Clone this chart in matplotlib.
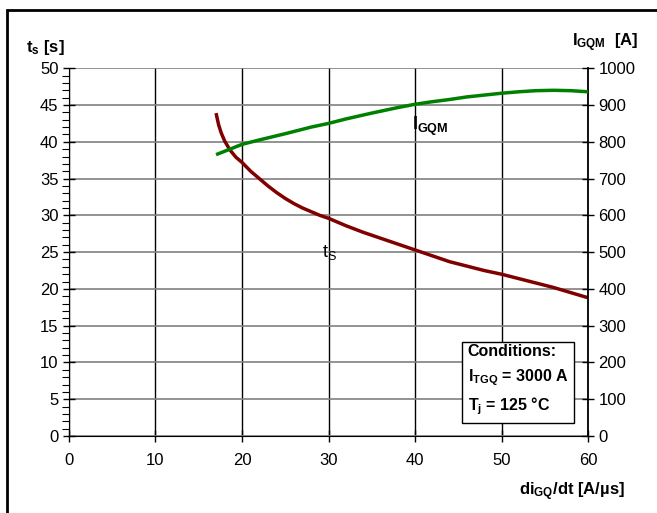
import numpy as np
import matplotlib.pyplot as plt
from matplotlib.patches import Rectangle
from matplotlib.ticker import MultipleLocator

plt.rcParams['font.family'] = ['Liberation Sans', 'DejaVu Sans']
plt.rcParams['mathtext.fontset'] = 'custom'
plt.rcParams['mathtext.rm'] = 'Liberation Sans'
plt.rcParams['mathtext.bf'] = 'Liberation Sans:bold'

# t_s curve (left axis)
ts_x = [17.0, 17.3, 17.6, 18.0, 18.6, 19.3, 20.0, 21.0, 22.0, 23.0, 24.0, 25.0, 26.0, 27.0,
        28.0, 29.0, 30.0, 32.0, 34.0, 36.0, 38.0, 40.0, 42.0, 44.0, 46.0, 48.0, 50.0,
        52.0, 54.0, 56.0, 58.0, 60.0]
ts_y = [43.9, 42.3, 41.2, 40.1, 38.9, 37.9, 37.2, 36.0, 35.0, 34.0, 33.1, 32.3, 31.6, 31.0,
        30.5, 30.0, 29.6, 28.6, 27.7, 26.9, 26.1, 25.3, 24.5, 23.7, 23.1, 22.5, 22.0,
        21.4, 20.8, 20.2, 19.5, 18.8]

# I_GQM curve (right axis)
ig_x = [17, 20, 22, 25, 28, 30, 32, 35, 38, 40, 42, 44, 46, 48, 50, 52, 54, 56, 58, 60]
ig_y = [765, 793, 805, 822, 840, 850, 862, 878, 893, 902, 909, 915, 922, 927, 932, 936, 939, 940, 939, 936]

fig = plt.figure(figsize=(6.57, 5.13), dpi=100)
ax = fig.add_axes([0.105, 0.150, 0.790, 0.717])
ax2 = ax.twinx()

ax.set_xlim(0, 60)
ax.set_ylim(0, 50)
ax2.set_ylim(0, 1000)

ax.xaxis.set_major_locator(MultipleLocator(10))
ax.yaxis.set_major_locator(MultipleLocator(5))
ax.yaxis.set_minor_locator(MultipleLocator(1))
ax2.yaxis.set_major_locator(MultipleLocator(100))

ax.grid(True, axis='y', color='#808080', lw=1.2)
ax.grid(True, axis='x', color='black', lw=1.0)
ax.set_axisbelow(True)

for a in (ax, ax2):
    for s in a.spines.values():
        s.set_visible(False)
ax.spines['left'].set_visible(True)
ax.spines['bottom'].set_visible(True)
ax2.spines['right'].set_visible(True)
ax2.spines['right'].set_linewidth(1.3)

ax.tick_params(axis='both', which='major', direction='inout', length=8, labelsize=12, width=1)
ax.tick_params(axis='x', pad=8)
ax.tick_params(axis='y', which='minor', direction='out', length=5, width=0.8)
ax2.tick_params(axis='y', direction='inout', length=8, labelsize=12, width=1)

ax.plot(ts_x, ts_y, color='#800000', lw=2.5, zorder=5, solid_capstyle='butt')
ax2.plot(ig_x, ig_y, color='#008000', lw=2.5, zorder=5, solid_capstyle='butt')

ax.text(29.3, 25.0, r'$\mathregular{t_S}$', fontsize=13, ha='left', va='center')
ax.text(39.6, 42.1, r'$\mathbf{I_{GQM}}$', fontsize=13, ha='left', va='center')

fig.text(0.040, 0.899, r'$\mathbf{t_s}$ [s]', fontsize=12, fontweight='bold', ha='left', va='baseline')
fig.text(0.972, 0.910, r'$\mathbf{I_{GQM}}$  [A]', fontsize=12, fontweight='bold', ha='right', va='baseline')
fig.text(0.951, 0.035, r'$\mathbf{di_{GQ}}$/dt [A/µs]', fontsize=12, fontweight='bold', ha='right', va='baseline')

ax.text(0.768, 0.150,
        'Conditions:\n' + r'$\mathbf{I_{TGQ}}$ = 3000 A' + '\n' + r'$\mathbf{T_j}$ = 125 °C',
        transform=ax.transAxes, fontsize=11.5, fontweight='bold', ha='left', va='center',
        linespacing=1.55,
        bbox=dict(boxstyle='square,pad=0.35', fc='white', ec='black', lw=1), zorder=10)

fig.patches.append(Rectangle((7 / 657, -0.1), 1.2, 1 - 10 / 513 + 0.1,
                             transform=fig.transFigure, fill=False, ec='black', lw=2))

plt.savefig('out.png', dpi=100)
